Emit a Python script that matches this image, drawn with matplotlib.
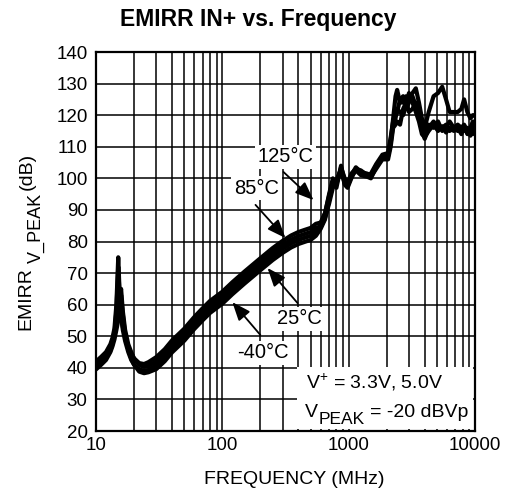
import matplotlib
matplotlib.use('Agg')
import matplotlib.pyplot as plt
from matplotlib.patches import Rectangle
from matplotlib.ticker import FixedLocator, NullFormatter

plt.rcParams['font.family'] = ['Liberation Sans', 'DejaVu Sans']
plt.rcParams['mathtext.fontset'] = 'custom'
plt.rcParams['mathtext.rm'] = 'Liberation Sans'

# frequency points (MHz), shared by all four temperature curves
freq = [10, 11, 12, 13, 13.5, 14, 14.5, 15, 15.4, 15.8, 16.3, 17, 18, 19, 20,
        22, 24, 26, 30, 35, 40, 50, 60, 70, 80, 100, 120, 150, 200, 250, 300,
        350, 400, 450, 500, 550,
        600, 650, 700, 750, 800, 870, 930, 980, 1050, 1140, 1250, 1400, 1500,
        1650, 1850, 2050, 2150, 2250, 2350, 2420, 2550, 2700, 2850, 3000, 3200,
        3400, 3600, 3800, 4000, 4300, 4700, 5100, 5500, 5900, 6300, 6800, 7300,
        7800, 8200, 8700, 9200, 9600, 10000]

emirr_125 = [42, 43.5, 45, 47.5, 49.5, 52.5, 60, 75, 63, 57, 53, 50, 46.5, 44.5, 43,
             41.5, 41.2, 41.8, 43.4, 45.9, 48.7, 52.4, 56.1, 58.9, 61.2, 64.1, 67.1, 70.5, 74.7, 77.9, 80.2,
             81.9, 83, 83.7, 84.3, 85.6,
             86, 89, 94.5, 99, 98, 103.5, 100, 98, 101, 103.5, 102, 101.5, 101,
             104, 107, 107.5, 112, 119, 126, 128, 124, 124, 126, 125, 127,
             128.5, 124, 119, 116, 121, 126, 127, 129, 125, 121, 121, 121,
             122, 125, 121, 119, 120, 120]

emirr_85 = [41, 42.5, 44, 46.5, 48, 50.5, 53.5, 56.5, 61, 65, 58, 52, 47.5, 45, 43,
            41, 40.3, 40.6, 42.1, 44.6, 47.4, 51.1, 54.8, 57.6, 59.9, 62.8, 65.8, 69.2, 73.4, 76.6, 78.9,
            80.6, 81.7, 82.4, 83, 84.3,
            84.5, 87.5, 92, 97, 99, 103, 98, 97, 100, 103, 101.5, 101, 100.5,
            103, 106, 106, 110, 116, 117, 118, 117, 122, 124, 121, 122,
            124, 120, 115, 112.5, 116, 118, 116, 116, 117, 115, 116, 115,
            115.5, 115, 116, 113.5, 116, 118]

emirr_25 = [40, 41.5, 43, 45.5, 47.5, 51, 58, 72, 62, 56, 52, 48.5, 45, 42.5, 41,
            39.5, 39, 39.3, 40.9, 43.4, 46.2, 49.9, 53.6, 56.4, 58.7, 61.6, 64.6, 68, 72.2, 75.4, 77.7,
            79.4, 80.5, 81.2, 81.8, 83.1,
            85.5, 89, 95, 100, 97, 104, 99, 98.5, 101.5, 103, 102.5, 101, 101.5,
            104.5, 107.5, 108, 113, 118, 120, 121, 125, 126, 122, 124, 126,
            123, 119, 117, 114, 117, 116, 118, 115, 116, 118, 116, 117,
            116, 117, 115, 116, 118, 117]

emirr_m40 = [39.5, 41, 42.5, 45, 46.8, 49, 52, 55, 59, 63, 57, 50.5, 46, 43, 41,
             38.8, 38.3, 38.6, 39.6, 42.1, 44.9, 48.6, 52.3, 55.1, 57.4, 60.3, 63.3, 66.7, 70.9, 74.1, 76.4,
             78.1, 79.2, 79.9, 80.5, 81.8,
             84, 87, 93, 98, 99.5, 102.5, 98.5, 97.5, 100.5, 102.5, 101, 100.5, 100,
             103.5, 106.5, 107, 111, 117, 119, 122, 121, 120, 123, 127, 124,
             121, 118, 114, 113, 115, 117, 115, 116.5, 114.5, 116, 115, 116,
             114, 116.5, 114, 115, 114, 116]

curves = [emirr_125, emirr_85, emirr_25, emirr_m40]

y_ticks = list(range(20, 141, 10))
x_ticks = [10, 100, 1000, 10000]
x_tick_labels = ['10', '100', '1000', '10000']

W, H = 516, 497
fig = plt.figure(figsize=(W / 100, H / 100), dpi=100)
ax = fig.add_axes([96 / W, 1 - 431 / H, 379 / W, 379 / H])


def px(x, y):
    # pixel position (from top-left) -> figure fraction
    return x / W, 1 - y / H


for vals in curves:
    ax.plot(freq, vals, color='black', lw=3.0, solid_joinstyle='round',
            solid_capstyle='round', zorder=3)

ax.set_xscale('log')
ax.set_xlim(10, 10000)
ax.set_ylim(20, 140)
ax.set_yticks(y_ticks)
ax.set_xticks(x_ticks)
ax.set_xticklabels(x_tick_labels)
minors = [m * d for d in (10, 100, 1000) for m in range(2, 10)]
ax.xaxis.set_minor_locator(FixedLocator(minors))
ax.xaxis.set_minor_formatter(NullFormatter())

ax.grid(True, which='both', axis='x', color='black', lw=1.1)
ax.grid(True, which='major', axis='y', color='black', lw=1.1)
ax.tick_params(which='both', length=0, labelsize=13.5)
ax.tick_params(axis='y', pad=6)
ax.tick_params(axis='x', pad=4)
for s in ax.spines.values():
    s.set_linewidth(1.6)

fig.text(*px(258, 26), 'EMIRR IN+ vs. Frequency', fontsize=16.5,
         fontweight='bold', ha='center', va='baseline')
ax.set_xlabel('FREQUENCY (MHz)', fontsize=14)
ax.xaxis.set_label_coords(0.522, -0.105)

# y label built from pieces (large subscript)
fig.text(*px(25.5, 299), 'EMIRR', rotation=90, fontsize=14, ha='center', va='center')
fig.text(*px(36, 228), 'V_PEAK', rotation=90, fontsize=13, ha='center', va='center')
fig.text(*px(27, 171.5), '(dB)', rotation=90, fontsize=14, ha='center', va='center')

# temperature labels with arrows
box = dict(facecolor='white', edgecolor='none', pad=2)
labels = [('125°C', 316, 106.8, 305, 102.0, 527, 93.1),
          ('85°C', 186, 96.9, 183, 91.6, 316, 81.1),
          ('25°C', 408, 55.5, 394, 60.5, 228, 71.6),
          ('-40°C', 211, 44.7, 200, 50.4, 120, 60.8)]
for txt, tx, ty, sx, sy, ex, ey in labels:
    ax.text(tx, ty, txt, fontsize=14.5, ha='center', va='center', bbox=box, zorder=5)
    ax.annotate('', xy=(ex, ey), xytext=(sx, sy),
                arrowprops=dict(arrowstyle='-|>,head_length=0.7,head_width=0.28',
                                color='black', lw=1.3, mutation_scale=16,
                                shrinkA=0, shrinkB=0),
                zorder=4)

# conditions box
ax.add_patch(Rectangle((0.53, 0.004), 0.465, 0.165, transform=ax.transAxes,
                       facecolor='white', edgecolor='none', zorder=4))
fig.text(*px(306, 388), r'V$^{\mathregular{+}}$ = 3.3V, 5.0V', fontsize=14,
         ha='left', va='baseline', zorder=6)
fig.text(*px(305, 417), 'V', fontsize=14, ha='left', va='baseline', zorder=6)
fig.text(*px(319, 424), 'PEAK', fontsize=12.5, ha='left', va='baseline', zorder=6)
fig.text(*px(370, 417), '= -20 dBVp', fontsize=14, ha='left', va='baseline', zorder=6)

fig.savefig('out.png', dpi=100)
